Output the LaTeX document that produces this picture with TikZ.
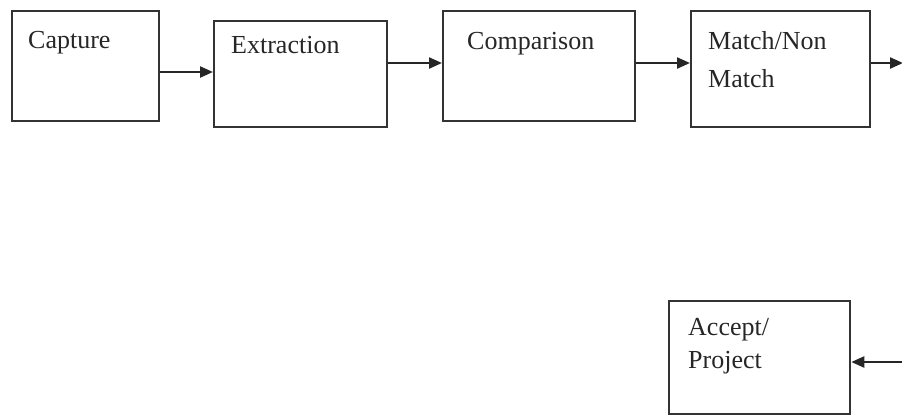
\documentclass[tikz,border=0pt]{standalone}
\usepackage{fontspec}
\setmainfont{Liberation Serif}
\usetikzlibrary{arrows.meta}
\begin{document}
\begin{tikzpicture}[x=1pt,y=-1pt,
  stagebox/.style={draw=black!80,line width=2.3pt,inner sep=0pt,anchor=north west},
  stagetext/.style={anchor=base west,inner sep=0pt,font=\fontsize{26}{38}\selectfont,align=left,text=black!85},
  flow/.style={line width=2.3pt,draw=black!85,-{Triangle[length=13pt,width=11pt]}}]
\useasboundingbox (0,0) rectangle (902,416);
\node[stagebox,minimum width=147pt,minimum height=110pt] (cap) at (11,10) {};
\node[stagebox,minimum width=173pt,minimum height=106pt] (ext) at (213,20) {};
\node[stagebox,minimum width=192pt,minimum height=110pt] (cmp) at (442,10) {};
\node[stagebox,minimum width=179pt,minimum height=116pt] (mat) at (690,10) {};
\node[stagebox,minimum width=181pt,minimum height=113pt] (acc) at (668,300) {};
\node[stagetext] (tcap) at (28,48) {Capture};
\node[stagetext] (text) at (231,53) {Extraction};
\node[stagetext] (tcmp) at (467,49) {Comparison};
\node[stagetext] (tmat) at (708,87) {Match/Non\\Match};
\node[stagetext,font=\fontsize{26}{33}\selectfont] (tacc) at (688,368) {Accept/\\Project};
\coordinate (outA) at (903,63);
\coordinate (inA) at (902,362);
\draw[flow] (cap.east |- 0,72) -- (ext.west |- 0,72);
\draw[flow] (ext.east |- 0,63) -- (cmp.west |- 0,63);
\draw[flow] (cmp.east |- 0,63) -- (mat.west |- 0,63);
\draw[flow] (mat.east |- outA) -- (outA);
\draw[flow] (inA) -- (acc.east |- inA);
\end{tikzpicture}
\end{document}
